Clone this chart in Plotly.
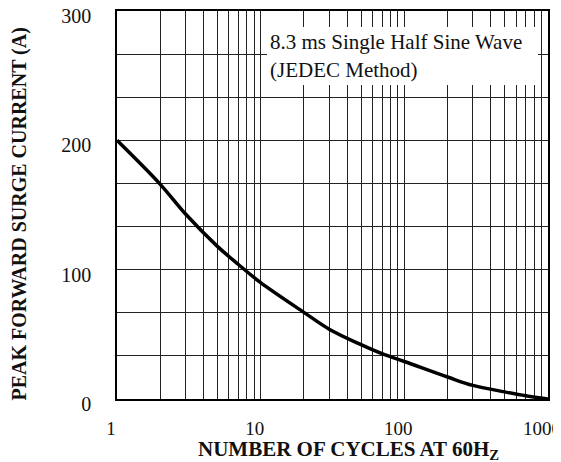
import numpy as np
import plotly.graph_objects as go

# Data
cycles = [1, 2, 3, 5, 7, 10, 20, 30, 50, 70, 100, 200, 300, 500, 700, 1000]
surge_current = [200, 166, 143, 118, 104, 90, 67, 54, 42, 35, 29, 17, 10.5, 5.5, 2.5, 0]

x_decades = [1, 10, 100, 1000]
x_grid = [m * d for d in [1, 10, 100] for m in range(1, 10)] + [1000]
x_ticktext = [str(v) if v in x_decades else "" for v in x_grid]

y_grid = [i * 100 / 3 for i in range(10)]
y_labels = {0: "0", 3: "100", 6: "200", 9: "300"}
y_ticktext = [y_labels.get(i, "") for i in range(10)]

x_title = "NUMBER OF CYCLES AT 60H<sub>Z</sub>"
y_title = "PEAK FORWARD SURGE CURRENT (A)"
note = "8.3 ms Single Half Sine Wave<br>(JEDEC Method)"

serif = "Liberation Serif, Times New Roman, serif"
ink = "#111111"

fig = go.Figure()
fig.add_trace(go.Scatter(
    x=cycles, y=surge_current, mode="lines",
    line=dict(color="black", width=3.5, shape="spline", smoothing=1.0),
    showlegend=False, hoverinfo="skip",
))

# page body has an 8px default margin, so the figure is sized to fit the window
fig.update_layout(
    width=553, height=454,
    margin=dict(l=109, r=13, t=3, b=63),
    paper_bgcolor="white", plot_bgcolor="white",
    font=dict(family=serif, color=ink, size=20),
    xaxis=dict(
        type="log", range=[0, 3], automargin=False,
        tickmode="array", tickvals=x_grid, ticktext=x_ticktext,
        showgrid=True, gridcolor="#222222", gridwidth=1.2,
        showline=True, linecolor="black", linewidth=1.5, mirror=True,
        ticks="outside", ticklen=11, tickcolor="rgba(0,0,0,0)", zeroline=False,
        ticklabeloverflow="allow", ticklabelshift=-6,
        tickfont=dict(family=serif, size=19, color=ink),
    ),
    yaxis=dict(
        range=[0, 300], automargin=False,
        tickmode="array", tickvals=y_grid, ticktext=y_ticktext,
        showgrid=True, gridcolor="#222222", gridwidth=1.2,
        showline=True, linecolor="black", linewidth=1.5, mirror=True,
        ticks="outside", ticklen=20, tickcolor="rgba(0,0,0,0)", zeroline=False,
        ticklabeloverflow="allow", ticklabelshift=5,
        tickfont=dict(family=serif, size=20, color=ink),
    ),
    annotations=[
        dict(
            text=note, xref="x", yref="y", x=np.log10(11.07), y=265,
            xanchor="left", yanchor="middle", align="left", valign="middle",
            width=265, height=52, bgcolor="white", borderwidth=0, borderpad=3,
            showarrow=False, font=dict(family=serif, size=21, color=ink),
        ),
        dict(
            text=f"<b>{x_title}</b>", xref="paper", yref="paper",
            x=0.536, y=-0.131, xanchor="center", yanchor="middle",
            showarrow=False, font=dict(family=serif, size=21, color=ink),
        ),
        dict(
            text=f"<b>{y_title}</b>", xref="paper", yref="paper",
            x=-0.226, y=0.477, xanchor="center", yanchor="middle", textangle=-90,
            showarrow=False, font=dict(family=serif, size=20, color=ink),
        ),
    ],
)

fig.write_html("out.html")
